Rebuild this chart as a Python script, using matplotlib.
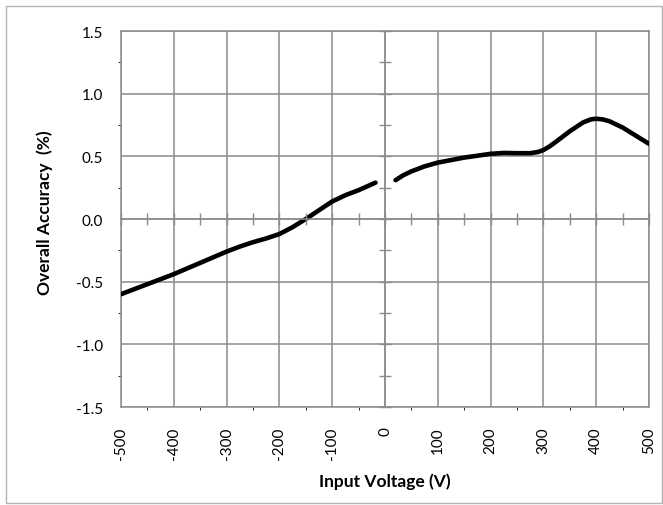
import matplotlib.pyplot as plt
from matplotlib.patches import Rectangle
from matplotlib.ticker import MultipleLocator

plt.rcParams['font.family'] = ['Lato', 'DejaVu Sans']

# accuracy vs input voltage, negative and positive branches
neg_v = [-500, -475, -450, -425, -400, -375, -350, -325, -300, -275, -250, -225,
         -200, -175, -150, -125, -100, -75, -50, -18]
neg_acc = [-0.60, -0.56, -0.52, -0.48, -0.44, -0.395, -0.35, -0.305, -0.26, -0.22,
           -0.185, -0.155, -0.12, -0.065, 0.0, 0.07, 0.14, 0.19, 0.23, 0.29]
pos_v = [20, 35, 50, 75, 100, 125, 150, 175, 200, 225, 250, 275, 290, 300, 312,
         325, 350, 375, 390, 400, 412, 425, 450, 475, 500]
pos_acc = [0.31, 0.35, 0.38, 0.42, 0.45, 0.47, 0.49, 0.505, 0.52, 0.527, 0.525,
           0.525, 0.535, 0.55, 0.58, 0.62, 0.70, 0.77, 0.795, 0.80, 0.795, 0.78,
           0.73, 0.665, 0.60]

x_ticks = list(range(-500, 501, 100))
y_ticks = [-1.5, -1.0, -0.5, 0.0, 0.5, 1.0, 1.5]

grid_c = '#8c8c8c'

fig = plt.figure(figsize=(6.63, 5.06), dpi=100)
pos = [121 / 663, 1 - 408 / 506, 528 / 663, 376 / 506]
ax = fig.add_axes(pos)

for xs, ys in ((neg_v, neg_acc), (pos_v, pos_acc)):
    ax.plot(xs, ys, color='black', lw=3.3, solid_capstyle='round',
            solid_joinstyle='round', zorder=5)

ax.set_xlim(-500, 500)
ax.set_ylim(-1.5, 1.5)
ax.set_xticks(x_ticks)
ax.set_yticks(y_ticks)
ax.set_xticklabels([str(v) for v in x_ticks], rotation=90, va='top')
ax.set_yticklabels(['%.1f' % v for v in y_ticks])
ax.tick_params(length=0, labelsize=11, colors='black')
ax.tick_params(axis='x', pad=14)
ax.tick_params(axis='y', pad=13)
ax.grid(True, color=grid_c, lw=1.1)
for s in ax.spines.values():
    s.set_color(grid_c)
    s.set_linewidth(1.1)

ax.set_xlabel('Input Voltage (V)', fontsize=12.5, fontweight='bold', labelpad=10)
ax.set_ylabel('Overall Accuracy  (%)', fontsize=12.5, fontweight='bold',
              va='center')
ax.yaxis.set_label_coords(-0.144, 0.52)

# crossing axes at the origin with cross ticks
ax2 = fig.add_axes(pos, sharex=ax, sharey=ax)
ax2.patch.set_visible(False)
ax2.spines['left'].set_position(('data', 0))
ax2.spines['bottom'].set_position(('data', 0))
ax2.spines['top'].set_visible(False)
ax2.spines['right'].set_visible(False)
for k in ('left', 'bottom'):
    ax2.spines[k].set_color(grid_c)
    ax2.spines[k].set_linewidth(1.1)
ax2.xaxis.set_minor_locator(MultipleLocator(50))
ax2.yaxis.set_minor_locator(MultipleLocator(0.25))
ax2.tick_params(which='both', direction='inout', length=8, width=1.0, color=grid_c,
                labelbottom=False, labelleft=False)

fig.patches.append(Rectangle((6 / 663, 1 - 504 / 506), 656 / 663, 497 / 506,
                             transform=fig.transFigure, fill=False, ec='#b4b4b4', lw=1.0))

fig.savefig('out.png', dpi=100)
